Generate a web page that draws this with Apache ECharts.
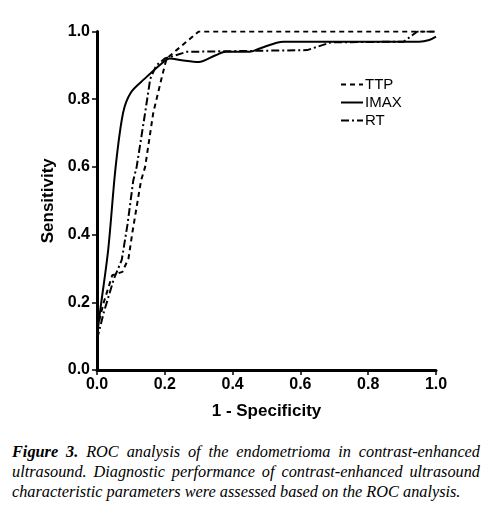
<!DOCTYPE html>
<html><head><meta charset="utf-8">
<script src="https://cdn.jsdelivr.net/npm/echarts@6/dist/echarts.min.js"></script>
<style>
html,body{margin:0;padding:0;background:#fff;width:488px;height:513px;overflow:hidden;}
#chart{width:488px;height:430px;}
#cap{position:absolute;left:12px;top:442px;width:468px;font-family:"Liberation Serif","Times New Roman",serif;font-style:italic;font-size:16.3px;line-height:20px;text-align:justify;color:#000;}
</style></head>
<body>
<div id="chart"></div>
<div id="cap"><b>Figure 3.</b> ROC analysis of the endometrioma in contrast-enhanced ultrasound. Diagnostic performance of contrast-enhanced ultrasound characteristic parameters were assessed based on the ROC analysis.</div>
<script>
var xTicks = [0, 0.2, 0.4, 0.6, 0.8, 1.0];
var seriesNames = ['TTP', 'IMAX', 'RT'];
var ttpPoints = [[0,0.12],[0.02,0.2],[0.045,0.28],[0.075,0.29],[0.093,0.33],[0.105,0.41],[0.13,0.56],[0.142,0.6],[0.166,0.76],[0.19,0.86],[0.205,0.92],[0.30,1.0],[1.0,1.0]];
var imaxPoints = [[0,0.1],[0.01,0.18],[0.033,0.355],[0.055,0.6],[0.077,0.76],[0.1,0.82],[0.14,0.86],[0.19,0.905],[0.215,0.92],[0.25,0.915],[0.3,0.91],[0.35,0.93],[0.38,0.94],[0.45,0.94],[0.48,0.95],[0.55,0.97],[0.95,0.97],[0.98,0.975],[1.0,0.985]];
var rtPoints = [[0,0.09],[0.02,0.17],[0.05,0.27],[0.073,0.325],[0.09,0.43],[0.107,0.56],[0.117,0.6],[0.142,0.76],[0.157,0.86],[0.175,0.9],[0.2,0.92],[0.265,0.94],[0.62,0.945],[0.69,0.968],[0.905,0.97],[0.945,1.0],[1.0,1.0]];

var chart = echarts.init(document.getElementById('chart'), null, {renderer:'canvas'});
var lab = {color:'#000', fontFamily:'Liberation Sans, Arial, sans-serif', fontWeight:'bold', fontSize:16};
function fmt(v){ return v.toFixed(1); }
chart.setOption({
  animation:false,
  grid:{left:97, right:52, top:31.5, bottom:60, containLabel:false},
  legend:{
    orient:'vertical', left:335, top:72, itemWidth:22, itemHeight:10, itemGap:3,
    data:seriesNames,
    itemStyle:{opacity:0},
    textStyle:{color:'#000', fontFamily:'Liberation Sans, Arial, sans-serif', fontSize:15, padding:[0,0,0,-3]}
  },
  xAxis:{
    type:'value', min:0, max:1, interval:0.2,
    name:'1 - Specificity', nameLocation:'middle', nameGap:33,
    nameTextStyle:{color:'#000', fontFamily:'Liberation Sans, Arial, sans-serif', fontWeight:'bold', fontSize:17},
    axisLine:{lineStyle:{color:'#000', width:3}},
    axisTick:{show:true, length:5, lineStyle:{color:'#000', width:1.5}},
    axisLabel:Object.assign({formatter:fmt, margin:7}, lab),
    splitLine:{show:false}
  },
  yAxis:{
    type:'value', min:0, max:1, interval:0.2,
    name:'Sensitivity', nameLocation:'middle', nameGap:37, nameRotate:90,
    nameTextStyle:{color:'#000', fontFamily:'Liberation Sans, Arial, sans-serif', fontWeight:'bold', fontSize:17},
    axisLine:{lineStyle:{color:'#000', width:3}},
    axisTick:{show:true, length:5, lineStyle:{color:'#000', width:1.5}},
    axisLabel:Object.assign({formatter:fmt, margin:7}, lab),
    splitLine:{show:false}
  },
  series:[
    {name:'TTP', type:'line', data:ttpPoints, showSymbol:false, symbol:'none', smooth:false,
     lineStyle:{color:'#000', width:2, type:[5,4]}, itemStyle:{color:'#000'}},
    {name:'IMAX', type:'line', data:imaxPoints, showSymbol:false, symbol:'none', smooth:0.3,
     lineStyle:{color:'#000', width:2, type:'solid'}, itemStyle:{color:'#000'}},
    {name:'RT', type:'line', data:rtPoints, showSymbol:false, symbol:'none', smooth:false,
     lineStyle:{color:'#000', width:2, type:[8,3,2,3]}, itemStyle:{color:'#000'}}
  ]
});
</script>
</body></html>
